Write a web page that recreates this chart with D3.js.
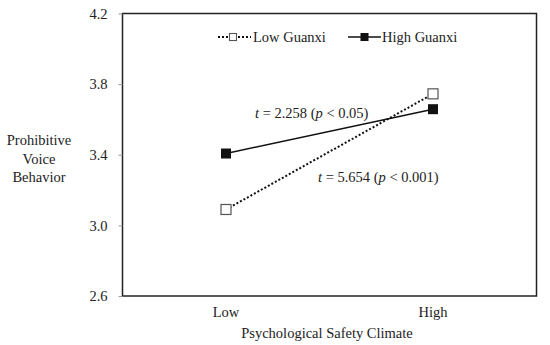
<!DOCTYPE html>
<html>
<head>
<meta charset="utf-8">
<style>
  body { margin: 0; background: #fff; }
  svg text { font-family: "Liberation Serif", "Times New Roman", serif; fill: #222; }
</style>
</head>
<body>
<svg id="chart" width="550" height="345"></svg>
<script src="https://cdnjs.cloudflare.com/ajax/libs/d3/7.8.5/d3.min.js"></script>
<script>
const categories = ["Low", "High"];
const lowGuanxi = [3.09, 3.745];
const highGuanxi = [3.407, 3.658];
const yTicks = [2.6, 3.0, 3.4, 3.8, 4.2];
const seriesNames = ["Low Guanxi", "High Guanxi"];

const svg = d3.select("#chart");
const margin = {left: 122.5, top: 13.5, right: 13.5, bottom: 49};
const width = 550, height = 345;
const fs = "14.5px";

const x = d3.scaleBand().domain(categories)
    .range([margin.left, width - margin.right]);
const y = d3.scaleLinear().domain([2.6, 4.2])
    .range([height - margin.bottom, margin.top]);

// frame
svg.append("rect")
    .attr("x", margin.left).attr("y", margin.top)
    .attr("width", width - margin.right - margin.left)
    .attr("height", height - margin.bottom - margin.top)
    .attr("fill", "none").attr("stroke", "#222").attr("stroke-width", 1.5);

// y axis
const yAxis = svg.append("g")
    .attr("transform", `translate(${margin.left},0)`)
    .call(d3.axisLeft(y).tickValues(yTicks).tickFormat(d3.format(".1f")).tickSize(4).tickPadding(11));
yAxis.select(".domain").remove();
yAxis.selectAll(".tick line").attr("stroke", "#999");
yAxis.selectAll(".tick text").style("font-size", fs)
    .style("font-family", "Liberation Serif").attr("fill", "#222");

// x axis labels
svg.selectAll(".xlab").data(categories).enter().append("text")
    .attr("class", "xlab")
    .attr("x", d => x(d) + x.bandwidth() / 2)
    .attr("y", 317)
    .attr("text-anchor", "middle")
    .style("font-size", fs)
    .text(d => d);

svg.append("text")
    .attr("x", 327).attr("y", 338)
    .attr("text-anchor", "middle")
    .style("font-size", fs)
    .text("Psychological Safety Climate");

// y title
const ytitle = svg.append("text").attr("text-anchor", "middle").style("font-size", fs);
["Prohibitive", "Voice", "Behavior"].forEach((t, i) => {
    ytitle.append("tspan").attr("x", 39).attr("y", 145 + i * 18.5).text(t);
});

const cx = d => x(d) + x.bandwidth() / 2;
const line = d3.line().x((d, i) => cx(categories[i])).y(d => y(d));

// lines
svg.append("path").datum(highGuanxi)
    .attr("d", line).attr("fill", "none")
    .attr("stroke", "#111").attr("stroke-width", 1.5);
svg.append("path").datum(lowGuanxi)
    .attr("d", line).attr("fill", "none")
    .attr("stroke", "#111").attr("stroke-width", 2).attr("stroke-dasharray", "2,2");

// markers
const ms = 10;
svg.selectAll(".mlow").data(lowGuanxi).enter().append("rect")
    .attr("x", (d, i) => cx(categories[i]) - ms / 2)
    .attr("y", d => y(d) - ms / 2)
    .attr("width", ms).attr("height", ms)
    .attr("fill", "#fff").attr("stroke", "#555").attr("stroke-width", 1.2);
svg.selectAll(".mhigh").data(highGuanxi).enter().append("rect")
    .attr("x", (d, i) => cx(categories[i]) - ms / 2)
    .attr("y", d => y(d) - ms / 2)
    .attr("width", ms).attr("height", ms)
    .attr("fill", "#111");

// annotations
function tLabel(xp, yp, tval, pval) {
    const t = svg.append("text").attr("x", xp).attr("y", yp).style("font-size", fs);
    t.append("tspan").style("font-style", "italic").text("t");
    t.append("tspan").text(` = ${tval} (`);
    t.append("tspan").style("font-style", "italic").text("p");
    t.append("tspan").text(` < ${pval})`);
}
tLabel(255, 118, "2.258", "0.05");
tLabel(318, 182, "5.654", "0.001");

// legend
const lg = svg.append("g");
lg.append("line").attr("x1", 218).attr("x2", 251).attr("y1", 37).attr("y2", 37)
    .attr("stroke", "#111").attr("stroke-width", 2).attr("stroke-dasharray", "2,2");
lg.append("rect").attr("x", 229.5).attr("y", 33.5).attr("width", 7).attr("height", 7)
    .attr("fill", "#fff").attr("stroke", "#555").attr("stroke-width", 1.1);
lg.append("text").attr("x", 253).attr("y", 42).style("font-size", fs).text(seriesNames[0]);
lg.append("line").attr("x1", 348).attr("x2", 381).attr("y1", 37).attr("y2", 37)
    .attr("stroke", "#111").attr("stroke-width", 1.5);
lg.append("rect").attr("x", 360.5).attr("y", 33).attr("width", 8).attr("height", 8)
    .attr("fill", "#111");
lg.append("text").attr("x", 382).attr("y", 42).style("font-size", fs).text(seriesNames[1]);
</script>
</body>
</html>
